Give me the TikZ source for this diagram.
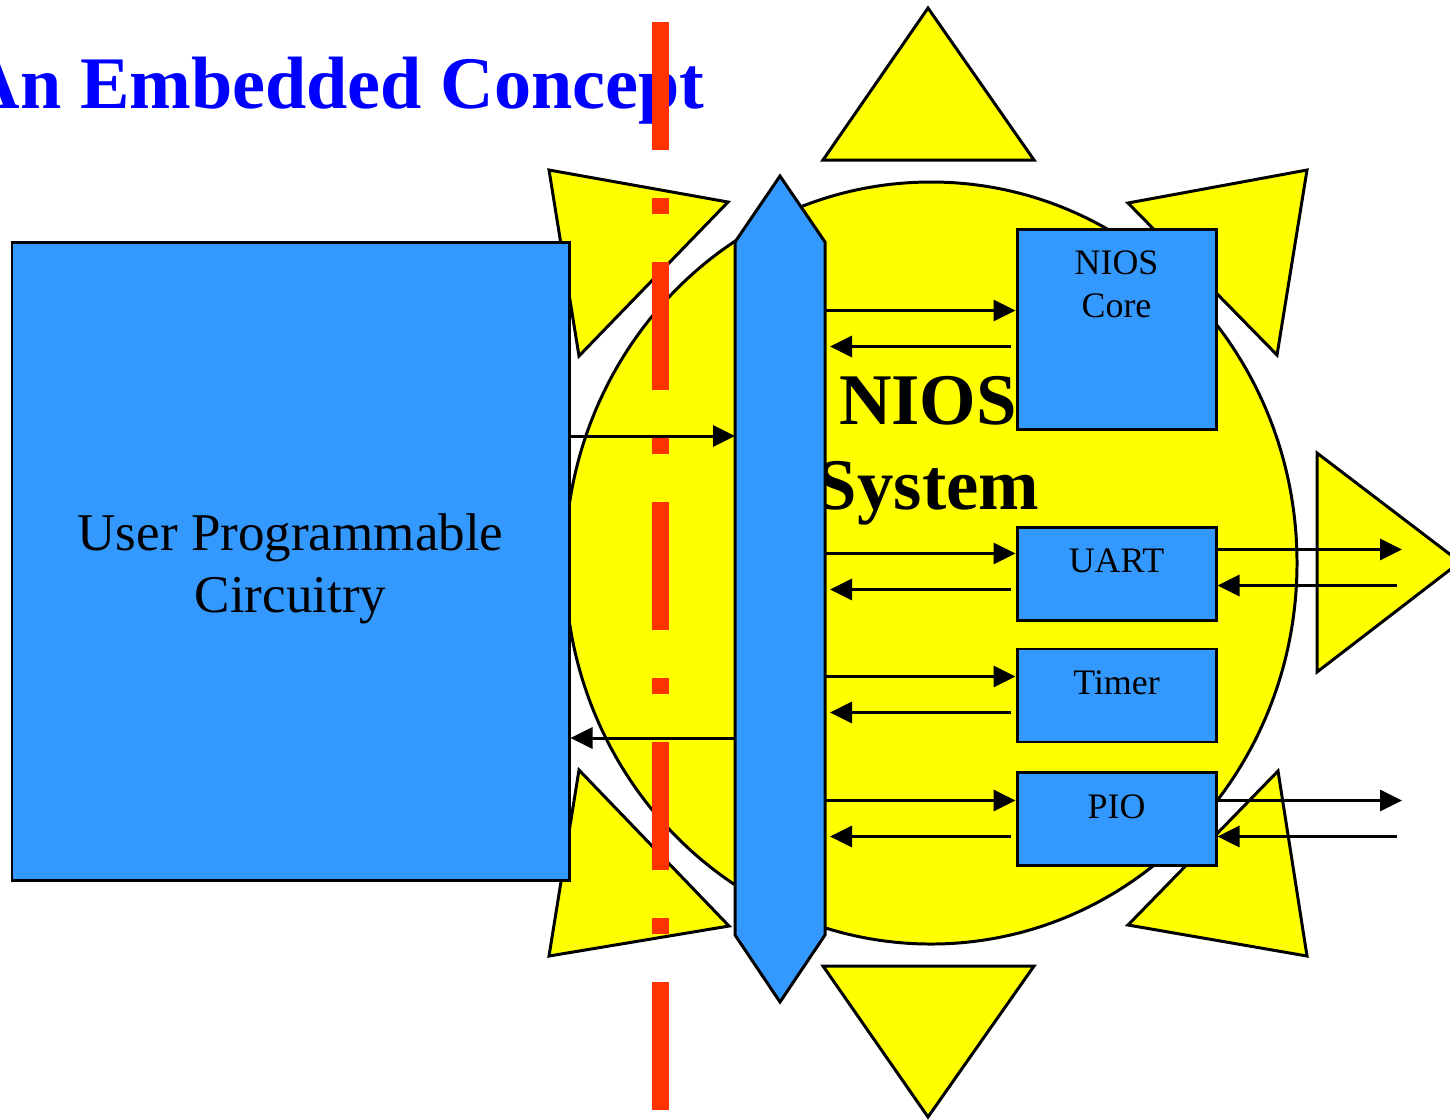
\documentclass[tikz,border=0pt]{standalone}
\usepackage{fontspec}
\setmainfont{Liberation Serif}
\usetikzlibrary{positioning,arrows.meta}
\definecolor{niosblue}{HTML}{3399FF}
\definecolor{sunyellow}{HTML}{FFFF00}
\definecolor{cutred}{HTML}{FF3300}
\definecolor{titleblue}{HTML}{0000FF}

\begin{document}
\begin{tikzpicture}[
  blk/.style={draw, line width=0.85pt, fill=niosblue, inner sep=0pt},
  per/.style={blk, minimum width=1.99cm, minimum height=0.93cm},
  pertext/.style={font=\fontsize{10.2}{12.2}\selectfont, align=center, inner sep=0pt, anchor=north},
  ray/.style={draw, line width=0.85pt, fill=sunyellow},
  sig/.style={line width=0.85pt, -{Triangle[length=0.22cm, width=0.21cm]}},
  cut/.style={cutred, line width=0.17cm, dash pattern=on 1.28cm off 0.48cm on 0.16cm off 0.48cm}
]
\clip (0,0) rectangle (14.50,-11.19);

% rays round the sun
\draw[ray] (9.28,-0.08) -- (10.34,-1.60) -- (8.23,-1.60) -- cycle;
\draw[ray] (9.28,-11.17) -- (10.34,-9.66) -- (8.23,-9.66) -- cycle;
\draw[ray] (14.60,-5.62) -- (13.17,-4.53) -- (13.17,-6.72) -- cycle;
\draw[ray] (5.49,-1.70) -- (7.28,-2.02) -- (5.79,-3.56) -- cycle;
\draw[ray] (5.49,-9.56) -- (7.29,-9.26) -- (5.79,-7.70) -- cycle;
\draw[ray] (13.07,-1.70) -- (11.28,-2.03) -- (12.77,-3.55) -- cycle;
\draw[ray] (13.07,-9.56) -- (11.28,-9.25) -- (12.78,-7.71) -- cycle;

% sun
\coordinate (sun) at (9.31,-5.63);
\draw[ray] (sun) ellipse [x radius=3.66, y radius=3.81];
\node[font=\fontsize{20.7}{24.1}\selectfont\bfseries, align=center, inner sep=0pt] (sys) at (9.28,-4.51) {NIOS\\System};

\node[font=\fontsize{21.1}{25}\selectfont\bfseries, text=titleblue, anchor=base west, inner sep=0pt] (title) at (-0.34,-1.08) {An Embedded Concept};

\node[blk, minimum width=5.57cm, minimum height=6.38cm] (user) at (2.905,-5.61) {};
\node[align=center, font=\fontsize{15.1}{17.6}\selectfont, inner sep=0pt] (usertxt) at (2.905,-5.69) {User Programmable\\Circuitry};

% bus
\node[minimum width=0.90cm, minimum height=6.93cm, inner sep=0pt, outer sep=0pt] (bus) at (7.80,-5.885) {};
\draw[blk] (bus.north west) -- ([yshift=0.66cm]bus.north) -- (bus.north east)
  -- (bus.south east) -- ([yshift=-0.67cm]bus.south) -- (bus.south west) -- cycle;

% peripherals
\node[per, minimum height=2.00cm] (core) at (11.165,-3.29) {};
\node[per, below=0.95cm of core] (uart) {};
\node[per, below=0.26cm of uart] (timer) {};
\node[per, below=0.28cm of timer] (pio) {};
\node[pertext] (coretxt) at ([yshift=-0.23cm]core.north) {NIOS\\Core};
\node[pertext] (uarttxt) at ([yshift=-0.23cm]uart.north) {UART};
\node[pertext] (timertxt) at ([yshift=-0.23cm]timer.north) {Timer};
\node[pertext] (piotxt) at ([yshift=-0.23cm]pio.north) {PIO};

% user <-> bus
\coordinate (up) at ([yshift=1.25cm]user.east);
\coordinate (down) at ([yshift=-1.77cm]user.east);
\draw[sig] (up) -- (up -| bus.west);
\draw[sig] (down -| bus.west) -- (down);

% bus <-> peripherals
\foreach \p/\a/\b in {core/0.83/1.19, uart/0.28/0.64, timer/0.29/0.65, pio/0.29/0.65}{
  \coordinate (in) at ([yshift=-\a cm]\p.north west);
  \coordinate (back) at ([yshift=-\b cm]\p.north west);
  \draw[sig] (in -| bus.east) -- (in);
  \draw[sig, shorten <=0.05cm, shorten >=0.05cm] (back) -- (back -| bus.east);
}

% to the outside
\coordinate (rim) at (14.02,0);
\foreach \p/\a/\b in {uart/0.24/0.60, pio/0.29/0.65}{
  \coordinate (out) at ([yshift=-\a cm]\p.north east);
  \coordinate (ret) at ([yshift=-\b cm]\p.north east);
  \draw[sig] (out) -- (out -| rim);
  \draw[sig, shorten <=0.05cm] (ret -| rim) -- (ret);
}

% cut line
\draw[cut] (6.60,-0.22) -- (6.60,-11.10);
\end{tikzpicture}
\end{document}
